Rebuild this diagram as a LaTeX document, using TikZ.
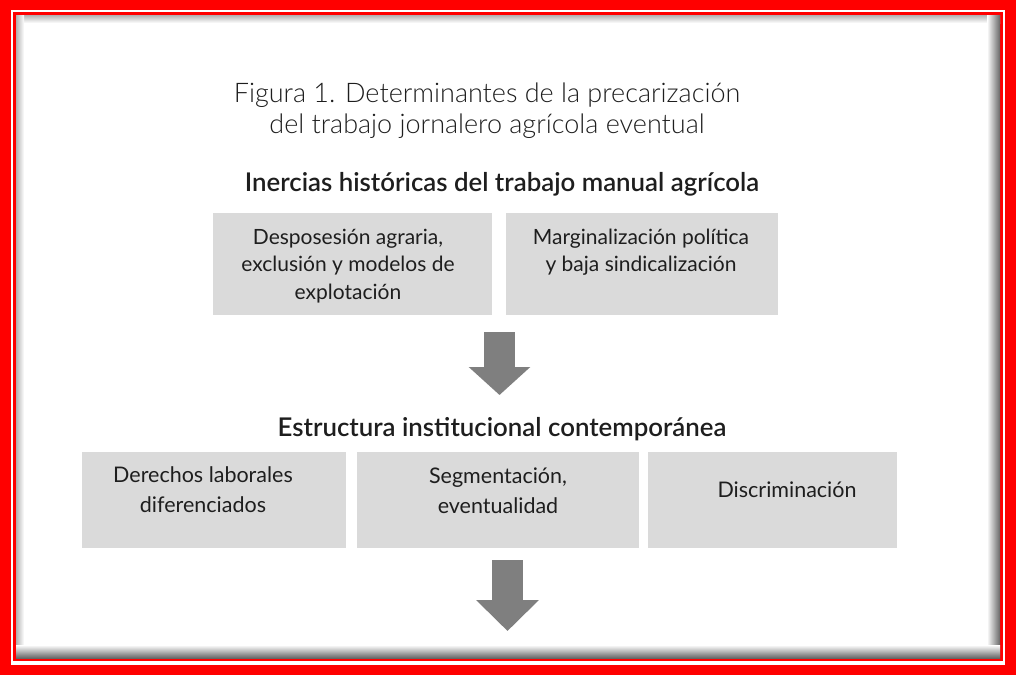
\documentclass[tikz,border=0pt]{standalone}
\usepackage{fontspec}
\setmainfont{Lato}
\newfontfamily\titlefont{Lato Light}
\newfontfamily\headfont{Lato Semibold}
\usepackage{tikz}
\usetikzlibrary{arrows.meta, positioning, calc}
\definecolor{frame}{RGB}{255, 0, 0}
\definecolor{boxfill}{RGB}{218, 218, 218}
\definecolor{arrowgray}{RGB}{127, 127, 127}
\definecolor{ink}{RGB}{30, 30, 30}

\begin{document}
\begin{tikzpicture}[
            x=1pt, y=-1pt,
            box/.style={rectangle, fill=boxfill, inner sep=0pt},
            boxtext/.style={align=center, text=ink, font=\fontsize{21}{27.5}\selectfont},
            rowtext/.style={boxtext, font=\fontsize{21.5}{30}\selectfont},
            heading/.style={text=ink, font=\headfont\fontsize{25.8}{30}\selectfont},
            bigarrow/.style={-{Triangle[length=28pt, width=60pt]}, line width=31pt, draw=arrowgray}
        ]
            \useasboundingbox (0,0) rectangle (1016,675);

            % Frame
            \fill[frame] (0,0) rectangle (1016,675);
            \fill[white] (11,10) rectangle (1005,665);
            \fill[frame] (13,12) rectangle (1003,661);
            \fill[white] (16,15) rectangle (1000,658);
            \shade[top color=black!30, bottom color=white] (16,15) rectangle (1000,23);
            \shade[left color=black!30, right color=white] (16,15) rectangle (24,658);
            \shade[left color=white, right color=black!60] (987,15) rectangle (1000,658);
            \shade[top color=white, bottom color=black!60] (16,645) rectangle (1000,658);

            % Title and headings
            \node[align=center, text=ink, font=\titlefont\fontsize{27}{31}\selectfont] (title) at (487,110.5)
                {Figura 1. Determinantes de la precarización\\del trabajo jornalero agrícola eventual};
            \node[heading] (inercias) at (502,184) {Inercias históricas del trabajo manual agrícola};
            \node[heading] (estructura) at (502,429) {Estructura institucional contemporánea};

            % Boxes
            \node[box, minimum width=279pt, minimum height=102pt] (despo) at (352.5,264) {};
            \node[box, minimum width=272pt, minimum height=102pt] (margi) at (642,264) {};
            \node[box, minimum width=264pt, minimum height=96pt] (derechos) at (214,500) {};
            \node[box, minimum width=282pt, minimum height=96pt] (segme) at (498,500) {};
            \node[box, minimum width=249pt, minimum height=96pt] (discri) at (772.5,500) {};

            % Box texts
            \node[boxtext] (despoT) at (348,266) {Desposesión agraria,\\exclusión y modelos de\\explotación};
            \node[boxtext] (margiT) at (641,252) {Marginalización política\\y baja sindicalización};
            \node[rowtext] (derechosT) at (203,490) {Derechos laborales\\diferenciados};
            \node[rowtext] (segmeT) at (498,491) {Segmentación,\\eventualidad};
            \node[rowtext] (discriT) at (787,490) {Discriminación};

            % Arrows
            \coordinate (a1s) at (499.5,332);
            \coordinate (a1e) at (499.5,395);
            \coordinate (a2s) at (507.5,560);
            \coordinate (a2e) at (507.5,631);
            \draw[bigarrow] (a1s) -- (a1e);
            \draw[bigarrow, -{Triangle[length=31pt, width=61pt]}] (a2s) -- (a2e);
        \end{tikzpicture}
\end{document}
